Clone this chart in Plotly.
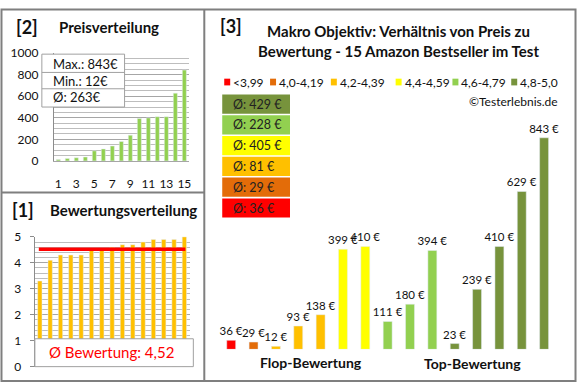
import plotly.graph_objects as go

W, H = 580, 390
def X(px): return px / W
def Y(py): return 1 - py / H

# ---------------- data ----------------
ratings = [3.3, 4.1, 4.3, 4.3, 4.3, 4.5, 4.5, 4.6, 4.7, 4.7, 4.8, 4.9, 4.9, 4.9, 5.0]
prices = [36, 29, 12, 93, 138, 399, 410, 111, 180, 394, 23, 239, 410, 629, 843]
positions = list(range(1, 16))
price_ticks = [1, 3, 5, 7, 9, 11, 13, 15]

group_labels = ["<3,99", "4,0-4,19", "4,2-4,39", "4,4-4,59", "4,6-4,79", "4,8-5,0"]
group_lower = [0.0, 4.0, 4.2, 4.4, 4.6, 4.8]
group_colors = ["#FF0000", "#E36C09", "#FFC000", "#FFFF00", "#92D050", "#77933C"]

title_text = "Makro Objektiv: Verhältnis von Preis zu<br>Bewertung - 15 Amazon Bestseller im Test"
FONT = "Lato"

def group_of(r):
    g = 0
    for i, b in enumerate(group_lower):
        if r >= b - 1e-9:
            g = i
    return g

groups = [group_of(r) for r in ratings]
bar_colors = [group_colors[g] for g in groups]
group_avgs = []
for gi in range(len(group_labels)):
    vals = [p for p, g in zip(prices, groups) if g == gi]
    group_avgs.append(int(sum(vals) / len(vals) + 0.5) if vals else 0)

price_dist = sorted(prices)
avg_price = int(sum(prices) / len(prices) + 0.5)
avg_rating = sum(ratings) / len(ratings)

fig = go.Figure()

# [2] Preisverteilung
fig.add_trace(go.Bar(x=positions, y=price_dist, marker_color="#92D050", width=0.45,
                     xaxis="x", yaxis="y", hoverinfo="skip"))
# [1] Bewertungsverteilung
fig.add_trace(go.Bar(x=positions, y=ratings, marker_color="#FFC000", width=0.42,
                     xaxis="x2", yaxis="y2", hoverinfo="skip"))
fig.add_trace(go.Scatter(x=[positions[0] - 0.1, positions[-1] + 0.1], y=[avg_rating, avg_rating],
                         mode="lines", line=dict(color="#FF0000", width=3.5),
                         xaxis="x2", yaxis="y2", hoverinfo="skip"))
# [3] Preis vs Bewertung
fig.add_trace(go.Bar(x=positions, y=prices, marker_color=bar_colors, width=0.4,
                     texttemplate="%{y} €", textposition="outside", constraintext="none",
                     cliponaxis=False, textfont=dict(family=FONT, size=11.5, color="#111"),
                     xaxis="x3", yaxis="y3", hoverinfo="skip"))

grid = "#A6A6A6"
axline = "#8C8C8C"
tickfont = dict(family=FONT, size=12, color="#111")

fig.update_layout(
    width=W, height=H, margin=dict(l=0, r=0, t=0, b=0),
    paper_bgcolor="white", plot_bgcolor="rgba(0,0,0,0)", showlegend=False,
    font=dict(family=FONT, color="#111"),
    xaxis=dict(domain=[X(54), X(189.5)], range=[0.5, 15.5], anchor="y",
               tickmode="array", tickvals=price_ticks, tickfont=tickfont,
               showgrid=False, zeroline=False, showline=True, linecolor=grid,
               ticks="", ticklabelstandoff=12),
    yaxis=dict(domain=[Y(159), Y(47)], range=[0, 1000], anchor="x",
               dtick=200, tickfont=tickfont, showgrid=True, gridcolor=grid,
               minor=dict(dtick=50, showgrid=True, gridcolor="#BDBDBD"),
               zeroline=False, showline=True, linecolor=axline, ticks="",
               ticklabelstandoff=12),
    xaxis2=dict(domain=[X(34.8), X(190.2)], range=[0.5, 15.5], anchor="y2",
                showticklabels=False, showgrid=False, zeroline=False, ticks=""),
    yaxis2=dict(domain=[Y(373), Y(238)], range=[0, 5], anchor="x2",
                dtick=1, tickfont=tickfont, showgrid=True, gridcolor=grid,
                minor=dict(dtick=0.2, showgrid=True, gridcolor="#BDBDBD"),
                zeroline=False, showline=True, linecolor=axline,
                ticks="outside", ticklen=4, tickcolor=axline, ticklabelstandoff=6),
    xaxis3=dict(domain=[X(220.8), X(557.2)], range=[0.5, 15.5], anchor="y3",
                visible=False),
    yaxis3=dict(domain=[Y(355), Y(94)], range=[0, 1000], anchor="x3",
                visible=False),
)

shapes = []
ann = []

def text(x, y, s, size=12, bold=False, color="#111", xanchor="center"):
    ann.append(dict(x=X(x), y=Y(y), xref="paper", yref="paper", text=(f"<b>{s}</b>" if bold else s),
                    showarrow=False, xanchor=xanchor, yanchor="middle",
                    font=dict(family=FONT, size=size, color=color)))

def rect(x0, y0, x1, y1, fill="white", line="#A0A0A0", lw=1):
    shapes.append(dict(type="rect", xref="paper", yref="paper", x0=X(x0), x1=X(x1), y0=Y(y1), y1=Y(y0),
                       fillcolor=fill, line=dict(color=line, width=lw), layer="above"))

def hline(x0, x1, y, color="#A0A0A0", lw=1):
    shapes.append(dict(type="line", xref="paper", yref="paper", x0=X(x0), x1=X(x1), y0=Y(y), y1=Y(y),
                       line=dict(color=color, width=lw), layer="above"))

def vline(x, y0, y1, color="#A0A0A0", lw=1):
    shapes.append(dict(type="line", xref="paper", yref="paper", x0=X(x), x1=X(x), y0=Y(y0), y1=Y(y1),
                       line=dict(color=color, width=lw), layer="above"))

# frame
rect(1.5, 1.5, 577.5, 388, fill="rgba(0,0,0,0)", line="#7F7F7F", lw=2)
vline(205, 1.5, 388, color="#7F7F7F", lw=2)
hline(1.5, 205, 192, color="#7F7F7F", lw=2)

# panel [2]
text(27, 20, "[2]", size=18, bold=True)
text(57, 20, "Preisverteilung", size=15, bold=True, xanchor="left")
rect(42, 48, 125, 103)
hline(42, 125, 67)
hline(42, 125, 84)
text(51, 58, f"Max.: {max(prices)}€", size=13, xanchor="left")
text(51, 76, f"Min.: {min(prices)}€", size=13, xanchor="left")
text(51, 93, f"Ø: {avg_price}€", size=13, xanchor="left")

# panel [1]
text(23, 210, "[1]", size=18, bold=True)
text(48, 210, "Bewertungsverteilung", size=15, bold=True, xanchor="left")
rect(35, 344, 194, 373)
text(112, 358, f"Ø Bewertung: {avg_rating:.2f}".replace(".", ","), size=15, color="#FF0000")

# panel [3]
text(232, 19, "[3]", size=18, bold=True)
ann.append(dict(x=X(400), y=Y(34), xref="paper", yref="paper", text=f"<b>{title_text}</b>",
                showarrow=False, xanchor="center", yanchor="middle",
                font=dict(family=FONT, size=15, color="#111")))

sq_x = [225, 271, 332, 397, 454, 513]
for gx, lab, col in zip(sq_x, group_labels, group_colors):
    shapes.append(dict(type="rect", xref="paper", yref="paper", x0=X(gx), x1=X(gx + 6),
                       y0=Y(80.5), y1=Y(73.5), fillcolor=col, line=dict(width=0)))
    text(gx + 7, 77, lab.replace("<", "&lt;"), size=12, xanchor="left")
text(562, 97, "©Testerlebnis.de", size=12, xanchor="right")

for i, gi in enumerate(reversed(range(len(group_labels)))):
    y0 = 90 + i * 21.6
    rect(223, y0, 291, y0 + 20, fill=group_colors[gi], line=group_colors[gi], lw=0)
    text(232, y0 + 10, f"Ø: {group_avgs[gi]} €", size=12.5, xanchor="left", color="#222")

text(312, 369, "Flop-Bewertung", size=14, bold=True)
text(474, 370, "Top-Bewertung", size=14, bold=True)

fig.update_layout(shapes=shapes, annotations=ann)
fig.write_html("out.html", config={"displayModeBar": False, "staticPlot": True},
               post_script="document.body.style.margin='0';document.body.style.padding='0';")
